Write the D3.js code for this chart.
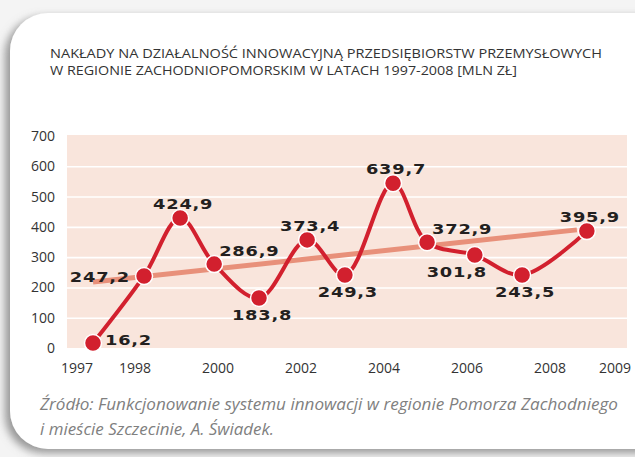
<!DOCTYPE html>
<html>
<head>
<meta charset="utf-8">
<script src="https://cdn.jsdelivr.net/npm/d3@7"></script>
<style>
  html, body { margin: 0; padding: 0; background: #f4f4f4; }
  svg { display: block; }
</style>
</head>
<body>
<svg id="chart" width="635" height="457"></svg>
<script>
// dane z wykresu
const titleLines = [
    'NAKŁADY NA DZIAŁALNOŚĆ INNOWACYJNĄ PRZEDSIĘBIORSTW PRZEMYSŁOWYCH',
    'W REGIONIE ZACHODNIOPOMORSKIM W LATACH 1997-2008 [MLN ZŁ]'
];
const sourceLines = [
    'Źródło: Funkcjonowanie systemu innowacji w regionie Pomorza Zachodniego',
    'i mieście Szczecinie, A. Świadek.'
];
// położenie punktów na osi czasu (tak jak na rysunku)
const pointYears = [1997, 1998.23, 1999.1, 1999.92, 2001.0, 2002.16, 2003.07, 2004.23, 2005.05, 2006.2, 2007.34, 2008.9];
const plotted = [16.2, 238, 429, 277, 165, 357, 241, 544, 349, 307, 241, 386];
const valueLabels = ['16,2', '247,2', '424,9', '286,9', '183,8', '373,4', '249,3', '639,7', '372,9', '301,8', '243,5', '395,9'];
const labelSide = ['right', 'left', 'above', 'aboveRight', 'below', 'above', 'below', 'above', 'aboveRight', 'belowLeft', 'below', 'above'];
const trend = [[1997, 218], [2008.66, 390]];
const yTicks = [0, 100, 200, 300, 400, 500, 600, 700];
const xTicks = [1998, 2000, 2002, 2004, 2006, 2008];
const xEndLabels = ['1997', '2009'];

const svg = d3.select('#chart');
const W = 635, H = 457;
const plot = { left: 67, right: 627, top: 135, bottom: 348 };

const defs = svg.append('defs');
const shadow = defs.append('filter').attr('id', 'shadow')
    .attr('x', '-10%').attr('y', '-10%').attr('width', '120%').attr('height', '120%');
shadow.append('feDropShadow')
    .attr('dx', -5).attr('dy', 4).attr('stdDeviation', 4)
    .attr('flood-color', '#777').attr('flood-opacity', 0.75);

// karta z zaokrąglonymi rogami po lewej
const cx0 = 10, cy0 = 13, cx1 = 660, cy1 = 449, r = 38;
const cardPath = d3.path();
cardPath.moveTo(cx0 + r, cy0);
cardPath.lineTo(cx1, cy0);
cardPath.lineTo(cx1, cy1);
cardPath.lineTo(cx0 + r, cy1);
cardPath.arcTo(cx0, cy1, cx0, cy1 - r, r);
cardPath.lineTo(cx0, cy0 + r);
cardPath.arcTo(cx0, cy0, cx0 + r, cy0, r);
cardPath.closePath();

svg.append('rect').attr('width', W).attr('height', H).attr('fill', '#f4f4f4');
svg.append('path').attr('d', cardPath.toString())
    .attr('fill', '#fff').attr('filter', 'url(#shadow)');

// tytuł
svg.append('g').selectAll('text')
    .data(titleLines)
    .enter().append('text')
    .attr('x', 50)
    .attr('y', (d, i) => 58 + i * 17)
    .attr('font-family', 'Open Sans, sans-serif')
    .attr('font-size', '12.4px')
    .attr('textLength', (d, i) => i === 0 ? 552 : 467)
    .attr('lengthAdjust', 'spacingAndGlyphs')
    .attr('fill', '#333')
    .text(d => d);

const x = d3.scaleLinear().domain([1997, 2009]).range([93, 591]);
const y = d3.scaleLinear().domain([0, 700]).range([plot.bottom, plot.top + 1]);

svg.append('rect')
    .attr('x', plot.left).attr('y', plot.top)
    .attr('width', plot.right - plot.left).attr('height', plot.bottom - plot.top)
    .attr('fill', '#f9e5dc');

// linie siatki
svg.append('g')
    .attr('transform', `translate(${plot.left},0)`)
    .call(d3.axisLeft(y).tickValues(yTicks.filter(v => v > 0 && v < 700))
        .tickSize(-(plot.right - plot.left)).tickFormat(''))
    .call(g => g.select('.domain').remove())
    .call(g => g.selectAll('line').attr('stroke', '#fff').attr('stroke-width', 1.6));

// oś Y
svg.append('g')
    .attr('transform', `translate(${plot.left},0)`)
    .call(d3.axisLeft(y).tickValues(yTicks).tickSize(0).tickPadding(12))
    .call(g => g.select('.domain').remove())
    .call(g => g.selectAll('text')
        .attr('font-family', 'Open Sans, sans-serif')
        .attr('font-size', '14px')
        .attr('fill', '#333'));

// oś X
svg.append('g')
    .attr('transform', `translate(0,${plot.bottom})`)
    .call(d3.axisBottom(x).tickValues(xTicks).tickFormat(d3.format('d')).tickSize(0).tickPadding(15))
    .call(g => g.select('.domain').remove())
    .call(g => g.selectAll('text')
        .attr('font-family', 'Open Sans, sans-serif')
        .attr('font-size', '14px')
        .attr('fill', '#333'));

svg.append('g').selectAll('text')
    .data(xEndLabels)
    .enter().append('text')
    .attr('x', (d, i) => i === 0 ? plot.left - 6 : plot.right + 4)
    .attr('y', 373)
    .attr('text-anchor', (d, i) => i === 0 ? 'start' : 'end')
    .attr('font-family', 'Open Sans, sans-serif')
    .attr('font-size', '14px')
    .attr('fill', '#333')
    .text(d => d);

// linia trendu
svg.append('path')
    .datum(trend)
    .attr('d', d3.line().x(d => x(d[0])).y(d => y(d[1])))
    .attr('fill', 'none')
    .attr('stroke', '#e8907a')
    .attr('stroke-width', 5);

const points = pointYears.map((yr, i) => ({ yr, v: plotted[i], label: valueLabels[i], side: labelSide[i] }));

svg.append('path')
    .datum(points)
    .attr('d', d3.line().x(d => x(d.yr)).y(d => y(d.v)).curve(d3.curveCatmullRom.alpha(0.5)))
    .attr('fill', 'none')
    .attr('stroke', '#d2202e')
    .attr('stroke-width', 4)
    .attr('stroke-linejoin', 'round');

svg.append('g').selectAll('circle')
    .data(points)
    .enter().append('circle')
    .attr('cx', d => x(d.yr))
    .attr('cy', d => y(d.v))
    .attr('r', 8.5)
    .attr('fill', '#d2202e')
    .attr('stroke', '#fff')
    .attr('stroke-width', 1.5);

// etykiety wartości
const placement = {
    right:      { dx: 12,  dy: 1.5, anchor: 'start' },
    left:       { dx: -14, dy: 6,   anchor: 'end' },
    above:      { dx: 3,   dy: -9,  anchor: 'middle' },
    aboveRight: { dx: 5,   dy: -8,  anchor: 'start' },
    below:      { dx: 3,   dy: 21.5, anchor: 'middle' },
    belowLeft:  { dx: -18, dy: 22,  anchor: 'middle' }
};

svg.append('g').selectAll('g')
    .data(points)
    .enter().append('g')
    .attr('transform', d => {
        const p = placement[d.side];
        return `translate(${x(d.yr) + p.dx},${y(d.v) + p.dy}) scale(1.3,1)`;
    })
    .append('text')
    .attr('text-anchor', d => placement[d.side].anchor)
    .attr('font-family', 'DejaVu Sans, sans-serif')
    .attr('font-weight', 'bold')
    .attr('font-size', '13.7px')
    .attr('letter-spacing', '0.6px')
    .attr('fill', '#231f20')
    .text(d => d.label);

// źródło
svg.append('g').selectAll('text')
    .data(sourceLines)
    .enter().append('text')
    .attr('x', 40)
    .attr('y', (d, i) => 410 + i * 25)
    .attr('font-family', 'Open Sans, sans-serif')
    .attr('font-style', 'italic')
    .attr('font-size', '16px')
    .attr('textLength', (d, i) => i === 0 ? 578 : 234)
    .attr('lengthAdjust', 'spacingAndGlyphs')
    .attr('fill', '#808080')
    .text(d => d);
</script>
</body>
</html>
